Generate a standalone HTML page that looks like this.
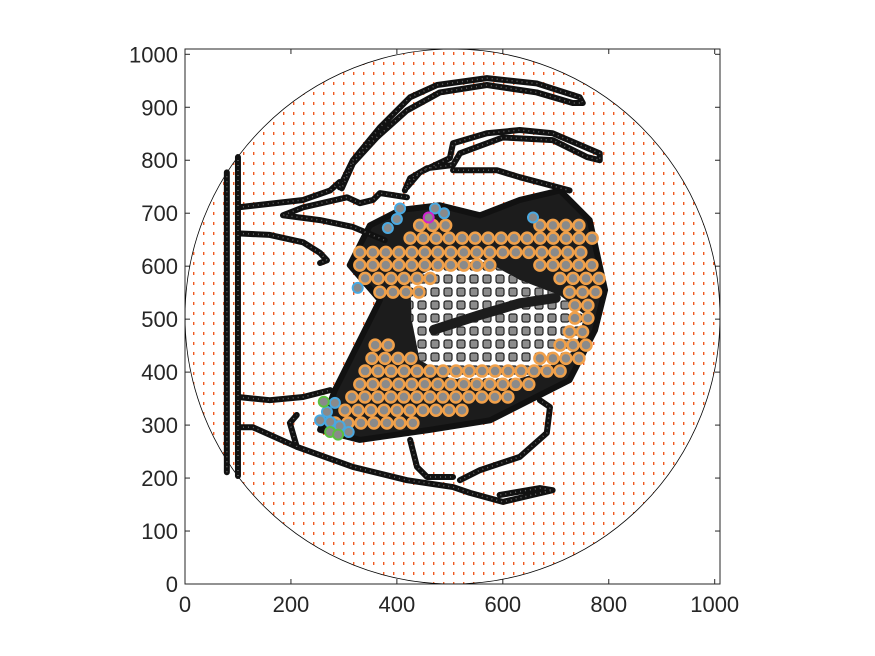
<!DOCTYPE html>
<html><head><meta charset="utf-8"><style>
html,body{margin:0;padding:0;background:#fff}
svg{display:block}
text{font-family:"Liberation Sans",sans-serif;font-size:22px;fill:#262626}
</style></head><body>
<svg id="c" width="875" height="656" viewBox="0 0 875 656">
<defs>
<pattern id="dash" width="10" height="10" patternUnits="userSpaceOnUse">
<rect x="3" y="2" width="1.4" height="3" fill="#f05a20"/>
</pattern>
<pattern id="graydots" width="13" height="13" patternUnits="userSpaceOnUse">
<rect x="2" y="2" width="8" height="8" rx="2" fill="#8c8c8c" stroke="#222" stroke-width="1.2"/>
</pattern>
<clipPath id="plotclip"><rect x="185" y="49" width="535" height="535"/></clipPath>
</defs>
<rect x="185" y="49" width="535" height="535" fill="#fff" stroke="#262626" stroke-width="1"/>
<g id="ticks"></g>
<g id="marks" clip-path="url(#plotclip)"></g>
</svg>
<script>
const X0=185,Y0=584,S=0.5297;
function sx(v){return X0+v*S}
function sy(v){return Y0-v*S}
const xTicks=[0,200,400,600,800,1000];
const yTicks=[0,100,200,300,400,500,600,700,800,900,1000];
const domainCircle=[505,505,505];
const curves=[
 [[292,749],[317,800],[368,862],[425,919],[476,942],[570,955],[664,945],[745,919],[751,908],[732,908],[664,928],[570,942],[481,928],[419,894],[362,843],[317,794],[296,747]],
 [[100,711],[223,725],[274,743],[292,759]],
 [[419,749],[443,777],[500,804],[506,832],[570,851],[632,857],[694,851],[783,813],[783,800],[759,806],[694,838],[600,843],[519,813],[506,791],[457,785],[425,766],[415,743]],
 [[506,781],[589,781],[632,768],[726,743]],
 [[419,730],[368,738],[355,725],[330,719],[306,730],[223,711],[185,696],[255,687],[317,674],[377,649]],
 [[100,662],[160,659],[223,645],[255,625],[268,611],[255,606]],
 [[100,353],[160,347],[223,353],[274,366]],
 [[100,296],[128,296],[211,259],[317,221],[419,196],[506,183],[538,172],[600,155],[694,177],[670,181],[594,168]],
 [[211,259],[198,304],[211,319]],
 [[519,196],[557,215],[632,240],[683,285],[689,334],[670,347]],
 [[425,272],[438,221],[457,202],[506,202]],
 [[79,211],[79,777]],
 [[100,204],[100,806]]
];
const blob=[[311,602],[349,677],[406,706],[481,715],[557,696],[632,725],[708,743],[764,687],[793,555],[774,479],[726,385],[651,347],[576,309],[462,291],[330,272],[255,291],[283,366],[330,460],[368,536]];
const inner=[[425,574],[481,602],[557,615],[632,574],[708,545],[755,508],[736,442],[670,400],[594,376],[500,389],[443,423],[428,498]];
const band=[[470,480],[557,508],[632,530],[700,540]];
const rowY=[677,677,653,626,602,602,577,577,551,551,526,502,476,451,451,426,426,402,377,353,328,304];
const rowX0=[443,670,425,330,330,670,340,708,368,726,736,736,726,359,708,353,670,340,330,315,302,283];
const rowX1=[500,745,783,764,594,774,481,783,443,783,779,774,768,406,760,443,745,708,651,632,538,443];
const blueX=[406,400,383,472,489,657,326,283,268,255,274,292,309];
const blueY=[709,689,672,709,700,692,559,342,325,309,306,298,287];
const greenX=[262,274,289];
const greenY=[344,287,282];
const magentaX=[460];
const magentaY=[692];

const svg=document.getElementById('c'),NS='http://www.w3.org/2000/svg';
function mk(tag,attrs,parent){const e=document.createElementNS(NS,tag);for(const k in attrs)e.setAttribute(k,attrs[k]);parent.appendChild(e);return e}
const T=document.getElementById('ticks'),M=document.getElementById('marks');
xTicks.forEach(v=>{
 const t=mk('text',{x:sx(v),y:612,'text-anchor':'middle'},T);t.textContent=v;
 
 
 mk('line',{x1:sx(v),x2:sx(v),y1:584,y2:579,stroke:'#262626'},T);
 mk('line',{x1:sx(v),x2:sx(v),y1:49,y2:54,stroke:'#262626'},T);
});
yTicks.forEach(v=>{
 const t=mk('text',{x:178,y:sy(v)+8,'text-anchor':'end'},T);t.textContent=v;
 
 
 mk('line',{x1:185,x2:190,y1:sy(v),y2:sy(v),stroke:'#262626'},T);
 mk('line',{x1:720,x2:715,y1:sy(v),y2:sy(v),stroke:'#262626'},T);
});
const ci=mk('circle',{cx:sx(domainCircle[0]),cy:sy(domainCircle[1]),r:domainCircle[2]*S,fill:'url(#dash)',stroke:'#000','stroke-width':0.8},M);


function pts(a){return a.map(p=>sx(p[0])+','+sy(p[1])).join(' ')}
const b=mk('polygon',{points:pts(blob),fill:'#1c1c1c',stroke:'#111','stroke-width':6,'stroke-linejoin':'round'},M);


const inn=mk('polygon',{points:pts(inner),fill:'#fff'},M);


mk('polygon',{points:pts(inner),fill:'url(#graydots)'},M);
const bd=mk('polyline',{points:pts(band),fill:'none',stroke:'#1c1c1c','stroke-width':10,'stroke-linecap':'round'},M);


curves.forEach(c=>{
 const l=mk('polyline',{points:pts(c),fill:'none',stroke:'#111','stroke-width':6,'stroke-linejoin':'round','stroke-linecap':'round'},M);
 
 
 mk('polyline',{points:pts(c),fill:'none',stroke:'#666','stroke-width':1.5,'stroke-dasharray':'1 4'},M);
});
const step=13/S;
rowY.forEach((y,i)=>{
 for(let x=rowX0[i];x<=rowX1[i]+1;x+=step){
  const o=mk('circle',{cx:sx(x),cy:sy(y),r:5.5,fill:'#8a8a8a',stroke:'#f0a04a','stroke-width':2.5},M);
  
  
 }
});
function ring(xs,ys,col,name){
 xs.forEach((x,i)=>{
  const o=mk('circle',{cx:sx(x),cy:sy(ys[i]),r:5,fill:'#8a8a8a',stroke:col,'stroke-width':2},M);
  
  
 });
}
ring(blueX,blueY,'#4aa8e0','blue-particle');
ring(greenX,greenY,'#5cc040','green-particle');
ring(magentaX,magentaY,'#d020d0','magenta-particle');
</script>
</body></html>
